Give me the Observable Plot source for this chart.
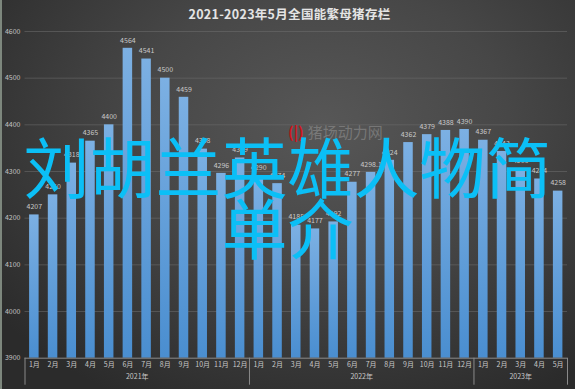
<!DOCTYPE html>
<html><head><meta charset="utf-8">
<script src="https://cdn.jsdelivr.net/npm/d3@7"></script>
<script src="https://cdn.jsdelivr.net/npm/@observablehq/plot@0.6"></script>
<style>
body{margin:0;background:#333;}
#wrap{position:relative;width:575px;height:389px;overflow:hidden;
 background:radial-gradient(ellipse 72% 80% at 56% 32%, #575757 0%, #474747 45%, #2b2b2b 100%);
 font-family:"Noto Sans CJK SC","Noto Sans",sans-serif;border-left:2px solid #7d877d;box-sizing:border-box;}
#chart{position:absolute;left:-2px;top:0;}
#title{position:absolute;top:6px;left:0;width:575px;text-align:center;color:#e4e4e4;font-size:12.5px;line-height:16px;font-weight:bold;letter-spacing:0.3px;}
#wm{position:absolute;left:286px;top:124px;color:rgba(150,150,150,0.55);font-size:15px;line-height:16px;}
#wm span{color:#d0141c;font-weight:bold;margin-right:4px;}
#big{position:absolute;left:-2px;top:134px;width:575px;text-align:center;color:#0bbff6;font-size:66px;line-height:61px;}
</style></head>
<body>
<div id="wrap">
 <div id="chart"></div>
 <div id="title">2021-2023年5月全国能繁母猪存栏</div>
 <div id="wm"><span>(|)</span>猪场动力网</div>
 <div id="big">刘胡兰英雄人物简<br>单介</div>
</div>
<script>
const monthLabels = ["1月","2月","3月","4月","5月","6月","7月","8月","9月","10月","11月","12月",
  "1月","2月","3月","4月","5月","6月","7月","8月","9月","10月","11月","12月",
  "1月","2月","3月","4月","5月"];
const values = [4207,4250,4318,4365,4400,4564,4541,4500,4459,4348,4296,4329,
  4290,4274,4185,4177,4192,4277,4298.1,4324,4362,4379,4388,4390,
  4367,4343,4305,4284,4258];
const years = ["2021年","2022年","2023年"];
const yearCounts = [12,12,5];
const yTicks = [3900,4000,4100,4200,4300,4400,4500,4600];

const data = values.map((v,i)=>({i, v, m: monthLabels[i], label: String(v)}));
let start = 0;
const groups = years.map((y,k)=>{ const g = {label:y, start, count:yearCounts[k]}; start += yearCounts[k]; return g; });
const seps = [0, ...groups.map(g=>g.start+g.count)];

const plot = Plot.plot({
  width: 575, height: 389,
  marginLeft: 24.5, marginRight: 8, marginTop: 31, marginBottom: 31.3,
  style: {background: "transparent", fontFamily: "'Noto Sans CJK SC','Noto Sans',sans-serif"},
  x: {type: "linear", domain: [0, values.length], axis: null},
  y: {domain: [3900, 4600], axis: null},
  marks: [
    Plot.ruleY(yTicks.slice(1), {stroke: "#6e6e6e", strokeOpacity: 0.55}),
    Plot.rectY(data, {x1: d=>d.i, x2: d=>d.i+1, y1: 3900, y2: "v", insetLeft: 4.6, insetRight: 4.6, fill: "url(#barGrad)"}),
    Plot.text(data, {x: d=>d.i+0.5, y: "v", text: "label", dy: -8, fill: "#c9c9c9", fontSize: 7}),
    Plot.ruleY([3900], {stroke: "#8a8a8a"}),
    Plot.ruleX(seps, {stroke: "#8a8a8a", insetTop: 326.7, insetBottom: -27}),
    Plot.text(yTicks, {y: d=>d, text: d=>String(d), frameAnchor: "left", dx: -4.5, textAnchor: "end", fill: "#c2c2c2", fontSize: 7}),
    Plot.text(data, {x: d=>d.i+0.5, text: "m", frameAnchor: "bottom", dy: 8.5, fill: "#c8c8c8", fontSize: 7}),
    Plot.text(groups, {x: d=>d.start+d.count/2, text: "label", frameAnchor: "bottom", dy: 20.5, fill: "#c8c8c8", fontSize: 7})
  ]
});
const defs = d3.select(plot).insert("defs", ":first-child");
const grad = defs.append("linearGradient").attr("id","barGrad").attr("x1",0).attr("y1",0).attr("x2",0).attr("y2",1);
grad.append("stop").attr("offset","0%").attr("stop-color","#7cb0e3");
grad.append("stop").attr("offset","100%").attr("stop-color","#4a8ed0");
document.getElementById("chart").appendChild(plot);
</script>
</body></html>
